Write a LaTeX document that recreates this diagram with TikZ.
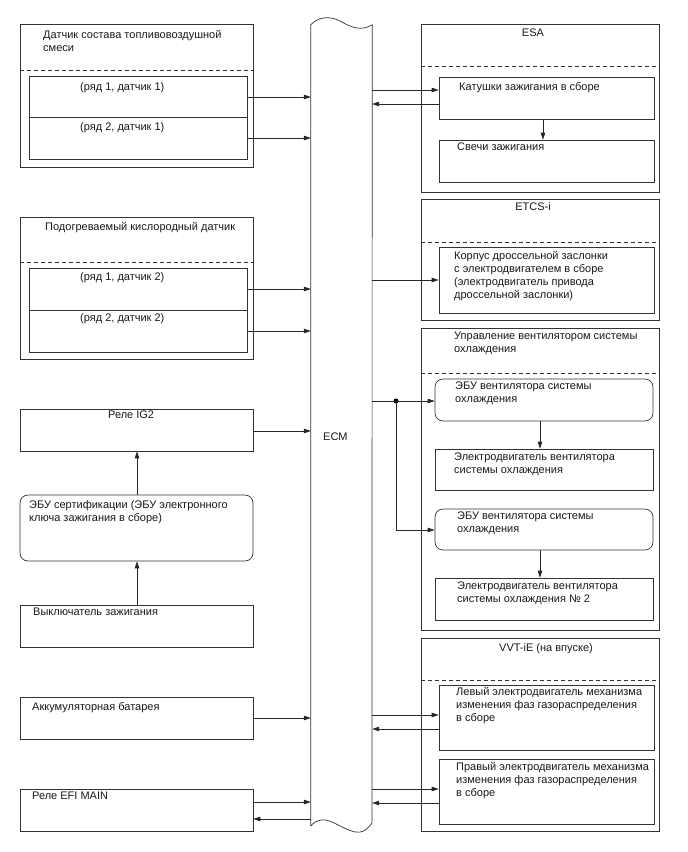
\documentclass[tikz,border=0pt]{standalone}
\usepackage{fontspec}
\setmainfont{Liberation Sans}
\usetikzlibrary{fit,arrows.meta}
\begin{document}
\begin{tikzpicture}[x=1pt,y=-1pt,
  ln/.style={draw=black!80,line width=0.7pt},
  box/.style={ln,inner sep=0pt,fit={#1}},
  rbox/.style={ln,inner sep=0pt,rounded corners=8pt,fit={#1}},
  hole/.style={inner sep=0pt,fit={#1}},
  dsh/.style={draw=black!80,line width=0.7pt,dash pattern=on 4pt off 3pt},
  arr/.style={draw=black!85,line width=0.7pt,-{Triangle[length=7pt,width=4.5pt]}},
  txt/.style={font=\fontsize{11}{13}\selectfont,text=black!90,inner sep=0pt,anchor=north west,align=left},
  ctxt/.style={font=\fontsize{11}{13}\selectfont,text=black!90,inner sep=0pt,anchor=north,align=center},
  dot/.style={circle,fill=black,inner sep=0pt,minimum size=5pt}
]
\useasboundingbox (0,0) rectangle (688,852);

% ECM
\node[hole={(311,25)(372,826)}] (ecm) {};
\draw[ln] (ecm.south west) -- (ecm.north west)
  .. controls (318,17) and (330,15) .. (342,22)
  .. controls (352,28) and (362,31) .. (ecm.north east)
  -- (372,823)
  .. controls (366,831) and (362,833) .. (355,832)
  .. controls (342,829) and (330,818) .. (321,820)
  .. controls (316,821) and (313,823) .. (ecm.south west);
\node[txt,anchor=west] (ecmt) at (323,437) {ECM};

% Left block 1
\node[box={(20,24)(253,167)}] (a1) {};
\draw[dsh] (a1.west |- 0,70) -- (a1.east |- 0,70);
\node[txt] (a1t) at (43,30) {Датчик состава топливовоздушной\\смеси};
\node[box={(29,76)(247,117)}] (a1r1) {};
\node[box={(29,117)(247,159)}] (a1r2) {};
\node[txt] (a1r1t) at (80,82) {(ряд 1, датчик 1)};
\node[txt] (a1r2t) at (80,122) {(ряд 2, датчик 1)};
\draw[arr] (a1r1.east |- 0,97) -- (ecm.west |- 0,97);
\draw[arr] (a1r2.east |- 0,138) -- (ecm.west |- 0,138);

% Left block 2
\node[box={(20,217)(253,359)}] (a2) {};
\draw[dsh] (a2.west |- 0,262) -- (a2.east |- 0,262);
\node[txt] (a2t) at (45,222) {Подогреваемый кислородный датчик};
\node[box={(29,268)(247,310)}] (a2r1) {};
\node[box={(29,310)(247,352)}] (a2r2) {};
\node[txt] (a2r1t) at (80,272) {(ряд 1, датчик 2)};
\node[txt] (a2r2t) at (80,313) {(ряд 2, датчик 2)};
\draw[arr] (a2r1.east |- 0,289) -- (ecm.west |- 0,289);
\draw[arr] (a2r2.east |- 0,331) -- (ecm.west |- 0,331);

% IG2 chain
\node[box={(20,409)(253,451)}] (ig2) {};
\node[txt] (ig2t) at (108,411) {Реле IG2};
\draw[arr] (ig2.east |- 0,431) -- (ecm.west |- 0,431);
\node[rbox={(20,495)(253,561)}] (cert) {};
\node[txt] (certt) at (29,500) {ЭБУ сертификации (ЭБУ электронного\\ключа зажигания в сборе)};
\node[box={(20,605)(253,647)}] (sw) {};
\node[txt] (swt) at (33,608) {Выключатель зажигания};
\draw[arr] (sw.north -| 137,0) -- (cert.south -| 137,0);
\draw[arr] (cert.north -| 137,0) -- (ig2.south -| 137,0);

% Battery
\node[box={(20,697)(253,739)}] (bat) {};
\node[txt] (batt) at (32,702) {Аккумуляторная батарея};
\draw[arr] (bat.east |- 0,718) -- (ecm.west |- 0,718);

% EFI MAIN
\node[box={(20,789)(253,831)}] (efi) {};
\node[txt] (efit) at (32,792) {Реле EFI MAIN};
\draw[arr] (efi.east |- 0,802) -- (ecm.west |- 0,802);
\draw[arr] (ecm.west |- 0,819) -- (efi.east |- 0,819);

% ESA
\node[box={(421,24)(659,192)}] (esa) {};
\draw[dsh] (esa.west |- 0,66) -- (esa.east |- 0,66);
\node[ctxt] (esat) at (533,29) {ESA};
\node[box={(439,77)(654,119)}] (coil) {};
\node[txt] (coilt) at (459,82) {Катушки зажигания в сборе};
\node[box={(439,140)(654,182)}] (plug) {};
\node[txt] (plugt) at (457,143) {Свечи зажигания};
\draw[arr] (ecm.east |- 0,90) -- (coil.west |- 0,90);
\draw[arr] (coil.west |- 0,104) -- (ecm.east |- 0,104);
\draw[arr] (coil.south -| 543,0) -- (plug.north -| 543,0);

% ETCS-i
\node[box={(421,199)(659,320)}] (etcs) {};
\draw[dsh] (etcs.west |- 0,242) -- (etcs.east |- 0,242);
\node[ctxt] (etcst) at (533,202) {ETCS-i};
\node[box={(439,247)(654,313)}] (thr) {};
\node[txt] (thrt) at (454,251) {Корпус дроссельной заслонки\\с электродвигателем в сборе\\(электродвигатель привода\\дроссельной заслонки)};
\draw[arr] (ecm.east |- 0,280) -- (thr.west |- 0,280);

% Cooling fan
\node[box={(421,328)(659,630)}] (fan) {};
\draw[dsh] (fan.west |- 0,373) -- (fan.east |- 0,373);
\node[txt] (fant) at (454,332) {Управление вентилятором системы\\охлаждения};
\node[rbox={(435,379)(653,421)}] (fecu1) {};
\node[txt] (fecu1t) at (455,382) {ЭБУ вентилятора системы\\охлаждения};
\node[box={(435,449)(653,490)}] (fm1) {};
\node[txt] (fm1t) at (454,453) {Электродвигатель вентилятора\\системы охлаждения};
\node[rbox={(435,509)(653,550)}] (fecu2) {};
\node[txt] (fecu2t) at (457,512) {ЭБУ вентилятора системы\\охлаждения};
\node[box={(435,578)(653,620)}] (fm2) {};
\node[txt] (fm2t) at (457,582) {Электродвигатель вентилятора\\системы охлаждения № 2};
\node[dot] (jn) at (396,401) {};
\draw[arr] (ecm.east |- 0,401) -- (fecu1.west |- 0,401);
\draw[arr] (jn.center) -- (396,530) -- (fecu2.west |- 0,530);
\draw[arr] (fecu1.south -| 540,0) -- (fm1.north -| 540,0);
\draw[arr] (fecu2.south -| 540,0) -- (fm2.north -| 540,0);

% VVT-iE
\node[box={(421,638)(659,831)}] (vvt) {};
\draw[dsh] (vvt.west |- 0,680) -- (vvt.east |- 0,680);
\node[ctxt] (vvtt) at (546,643) {VVT-iE (на впуске)};
\node[box={(439,685)(654,750)}] (lm) {};
\node[txt] (lmt) at (456,687) {Левый электродвигатель механизма\\изменения фаз газораспределения\\в сборе};
\node[box={(439,759)(654,824)}] (rm) {};
\node[txt] (rmt) at (456,762) {Правый электродвигатель механизма\\изменения фаз газораспределения\\в сборе};
\draw[arr] (ecm.east |- 0,715) -- (lm.west |- 0,715);
\draw[arr] (lm.west |- 0,729) -- (ecm.east |- 0,729);
\draw[arr] (ecm.east |- 0,789) -- (rm.west |- 0,789);
\draw[arr] (rm.west |- 0,803) -- (ecm.east |- 0,803);
\end{tikzpicture}
\end{document}
